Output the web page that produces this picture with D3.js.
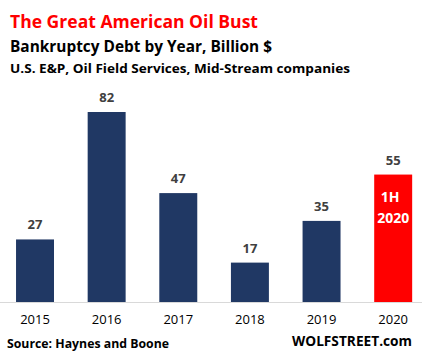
<!DOCTYPE html>
<html><head><meta charset="utf-8">
<script src="https://cdn.jsdelivr.net/npm/d3@7"></script>
<style>body{margin:0;background:#fff}svg{display:block}</style>
</head><body>
<svg id="c" width="422" height="359"></svg>
<script>
const years = ["2015","2016","2017","2018","2019","2020"];
const debt = [27, 82, 47, 17, 35, 55];
const barColors = ["#203864","#203864","#203864","#203864","#203864","#FF0000"];

const svg = d3.select("#c");
const font = "'Open Sans', 'Liberation Sans', sans-serif";
const base = 302;
const x = d3.scaleBand().domain(years).range([-0.8, 429]).paddingInner(0.47).paddingOuter(0.235);
const y = d3.scaleLinear().domain([0, 82]).range([base, 112]);

function txt(t, xx, yy, size, weight, color, len, anchor) {
  const e = svg.append("text").attr("x", xx).attr("y", yy).attr("font-family", font)
    .attr("font-size", size).attr("font-weight", weight).attr("fill", color).text(t);
  if (anchor) e.attr("text-anchor", anchor);
  if (len) e.attr("textLength", len).attr("lengthAdjust", "spacingAndGlyphs");
  return e;
}
txt("The Great American Oil Bust", 10, 28, 18, "bold", "#FF0000", 248);
txt("Bankruptcy Debt by Year, Billion $", 10, 52, 16, "bold", "#000", 262);
txt("U.S. E&P, Oil Field Services, Mid-Stream companies", 10, 73, 13, "bold", "#000", 340);

svg.selectAll("rect.bar").data(debt).join("rect").attr("class","bar")
  .attr("x", (d,i) => x(years[i])).attr("width", x.bandwidth())
  .attr("y", d => y(d)).attr("height", d => base - y(d))
  .attr("fill", (d,i) => barColors[i]);

svg.append("line").attr("x1", 0).attr("x2", 422).attr("y1", base + 0.5).attr("y2", base + 0.5)
  .attr("stroke", "#d9d9d9").attr("stroke-width", 1);

svg.selectAll("text.val").data(debt).join("text").attr("class","val")
  .attr("x", (d,i) => x(years[i]) + x.bandwidth()/2).attr("y", d => y(d) - 10)
  .attr("text-anchor","middle").attr("font-family", font).attr("font-size", 13)
  .attr("font-weight","bold").attr("fill","#404040").text(d => d);

const xAxis = svg.append("g").attr("transform", `translate(0,${base})`)
  .call(d3.axisBottom(x).tickSize(0).tickPadding(13));
xAxis.select(".domain").remove();
xAxis.selectAll("text").attr("font-family", font).attr("font-size", 13).attr("fill","#000");

const cx = x("2020") + x.bandwidth()/2;
txt("1H", cx - 3, 202, 14, "bold", "#fff", null, "middle");
txt("2020", cx, 223, 14, "bold", "#fff", null, "middle");

txt("Source: Haynes and Boone", 7, 348, 13, "bold", "#000", 162);
txt("WOLFSTREET.com", 292, 346, 14, "bold", "#000", 120);
</script>
</body></html>
